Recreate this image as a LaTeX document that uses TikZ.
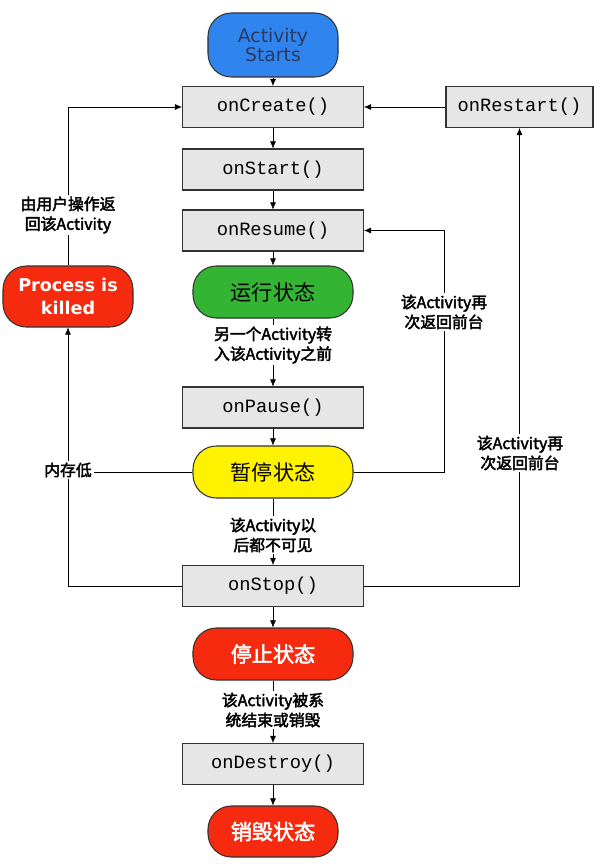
\documentclass[tikz,border=0pt]{standalone}
\usepackage{fontspec}
\setmainfont{DejaVu Sans}
\newfontfamily\cjk[AutoFakeBold=2.5]{Noto Sans CJK SC}
\newfontfamily\codefont{Liberation Mono}
\usetikzlibrary{arrows.meta, positioning, backgrounds}
\definecolor{startblue}{HTML}{2F84EE}
\definecolor{rungreen}{HTML}{33B533}
\definecolor{pauseyellow}{HTML}{FFF200}
\definecolor{stopred}{HTML}{F52A0F}
\definecolor{boxgray}{HTML}{E6E6E6}
\definecolor{starttext}{HTML}{2A3A60}

\begin{document}
\begin{tikzpicture}[x=0.03cm, y=-0.03cm, >={Latex[length=6pt,width=5pt]},
  callbox/.style={draw=black!80, line width=0.9pt, fill=boxgray, minimum width=5.43cm,
    minimum height=1.23cm, font=\codefont\fontsize{16}{18}\selectfont},
  statebox/.style={draw=black!80, line width=0.9pt, rounded corners=0.7cm, minimum width=4.8cm,
    minimum height=1.56cm, font=\cjk\fontsize{18}{20}\selectfont},
  note/.style={fill=white, align=center, inner sep=1.5pt, font=\cjk\bfseries\fontsize{13.5}{17}\selectfont}]
  \useasboundingbox (0,0) rectangle (600,864);

  % Main column
  \node[statebox, fill=startblue, minimum width=3.9cm, minimum height=1.92cm, align=center,
        text=starttext, font=\fontsize{16}{17}\selectfont] (start) at (273,45) {Activity\\Starts};
  \node[callbox] (create) at (273,107) {onCreate()};
  \node[callbox, minimum width=4.41cm] (restart) at (519.5,107) {onRestart()};
  \node[callbox] (startcall) at (273,169.5) {onStart()};
  \node[callbox] (resume) at (273,230.5) {onResume()};
  \node[statebox, fill=rungreen] (running) at (273,292) {运行状态};
  \node[callbox] (pause) at (273,407.5) {onPause()};
  \node[statebox, fill=pauseyellow] (paused) at (273,472) {暂停状态};
  \node[callbox] (stop) at (273,586) {onStop()};
  \node[statebox, fill=stopred, text=white, font=\cjk\bfseries\fontsize{18}{20}\selectfont] (stopped) at (273,654) {停止状态};
  \node[callbox] (destroy) at (273,764) {onDestroy()};
  \node[statebox, fill=stopred, text=white, minimum width=3.9cm, minimum height=1.53cm,
        font=\cjk\bfseries\fontsize{18}{20}\selectfont] (destroyed) at (273,831.5) {销毁状态};

  % Killed process
  \node[statebox, fill=stopred, text=white, minimum width=3.9cm, minimum height=1.83cm, align=center,
        font=\bfseries\fontsize{15}{19}\selectfont] (killed) at (68,296.5) {Process is\\killed};

  % Labels on the lines
  \node[note] (tofront) at (273,345) {另一个Activity转\\入该Activity之前};
  \node[note] (invisible) at (273,535) {该Activity以\\后都不可见};
  \node[note] (finished) at (273,710) {该Activity被系\\统结束或销毁};
  \node[note] (back) at (68,215) {由用户操作返\\回该Activity};
  \node[note] (lowmem) at (68,470) {内存低};
  \node[note] (refront) at (444,312) {该Activity再\\次返回前台};
  \node[note] (reshow) at (520,453) {该Activity再\\次返回前台};
  \coordinate (rightturn) at (444,230.5);

  \begin{scope}[on background layer, line width=0.8pt]
    \draw[->] (start) -- (create);
    \draw[->] (create) -- (startcall);
    \draw[->] (startcall) -- (resume);
    \draw[->] (resume) -- (running);
    \draw[->] (running) -- (pause);
    \draw[->] (pause) -- (paused);
    \draw[->] (paused) -- (stop);
    \draw[->] (stop) -- (stopped);
    \draw[->] (stopped) -- (destroy);
    \draw[->] (destroy) -- (destroyed);
    \draw[->] (restart) -- (create);
    \draw[->] (stop.east) -| (restart.south);
    \draw[->] (paused.east) -| (rightturn) -- (resume.east);
    \draw[->] (stop.west) -| (killed.south);
    \draw (paused.west) -- (paused.west -| lowmem.east);
    \draw[->] (killed.north) |- (create.west);
  \end{scope}
\end{tikzpicture}
\end{document}
